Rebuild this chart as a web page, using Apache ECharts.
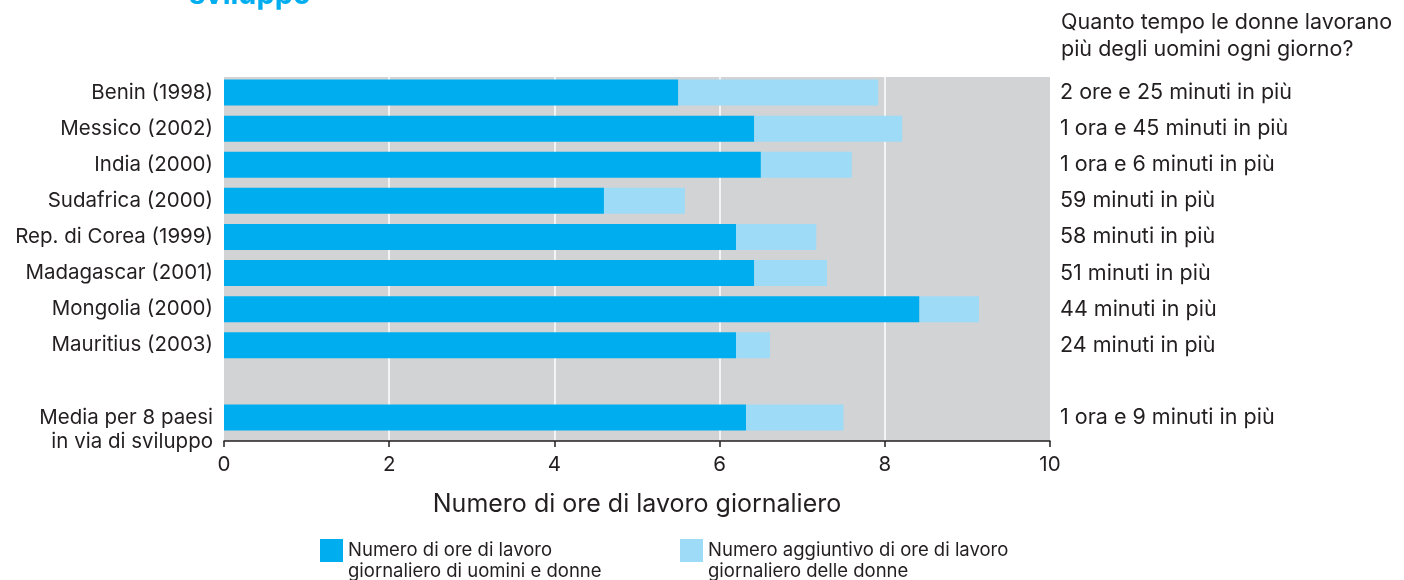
<!DOCTYPE html>
<html>
<head>
<meta charset="utf-8">
<script src="https://cdn.jsdelivr.net/npm/echarts@6/dist/echarts.min.js"></script>
<style>html,body{margin:0;padding:0;background:#fff}#c{width:1404px;height:580px}</style>
</head>
<body>
<div id="c"></div>
<script>
const categories = ['Benin (1998)', 'Messico (2002)', 'India (2000)', 'Sudafrica (2000)', 'Rep. di Corea (1999)', 'Madagascar (2001)', 'Mongolia (2000)', 'Mauritius (2003)', '', 'Media per 8 paesi\nin via di sviluppo'];
const baseHours = [5.5, 6.42, 6.5, 4.6, 6.2, 6.42, 8.42, 6.2, null, 6.32];
const extraHours = [2.42, 1.79, 1.1, 0.98, 0.97, 0.88, 0.72, 0.41, null, 1.18];
const extraLabels = ['2 ore e 25 minuti in più', '1 ora e 45 minuti in più', '1 ora e 6 minuti in più', '59 minuti in più', '58 minuti in più', '51 minuti in più', '44 minuti in più', '24 minuti in più', '', '1 ora e 9 minuti in più'];
const seriesNames = ['Numero di ore di lavoro\ngiornaliero di uomini e donne', 'Numero aggiuntivo di ore di lavoro\ngiornaliero delle donne'];
const titleText = 'sviluppo';
const rightHeader = 'Quanto tempo le donne lavorano\npiù degli uomini ogni giorno?';
const xAxisName = 'Numero di ore di lavoro giornaliero';

const FONT = 'Inter';
const TXT = '#231f20';
const DARK = '#00aeef';
const LIGHT = '#9edbf7';

const chart = echarts.init(document.getElementById('c'), null, {renderer: 'canvas'});

chart.setOption({
  animation: false,
  textStyle: {fontFamily: FONT, color: TXT},
  title: [
    {text: titleText, left: 184, top: -24, textStyle: {fontFamily: FONT, fontSize: 29, fontWeight: 'bold', color: DARK}},
    {text: rightHeader, left: 1056, top: 4, textStyle: {fontFamily: FONT, fontSize: 21.5, fontWeight: 'normal', color: TXT, lineHeight: 27}}
  ],
  grid: [
    {left: 224, right: 354, top: 74.5, height: 361, containLabel: false},
    {left: 224, right: 354, top: 77, height: 364, show: true, backgroundColor: '#d1d3d5', borderWidth: 0}
  ],
  xAxis: [
    {gridIndex: 0, type: 'value', min: 0, max: 10, interval: 2, show: false},
    {gridIndex: 1, type: 'value', min: 0, max: 10, interval: 2,
     axisLine: {show: true, lineStyle: {color: '#231f20', width: 1.5}},
     axisTick: {show: true, length: 6, lineStyle: {color: '#231f20', width: 1.5}},
     axisLabel: {fontFamily: FONT, fontSize: 20.5, color: TXT, margin: 13},
     splitLine: {show: true, showMinLine: false, showMaxLine: false, lineStyle: {color: '#ffffff', width: 1.5}},
     name: xAxisName, nameLocation: 'middle', nameGap: 51,
     nameTextStyle: {fontFamily: FONT, fontSize: 25, color: TXT}}
  ],
  yAxis: [
    {gridIndex: 0, type: 'category', data: categories, inverse: true,
     axisLine: {show: false}, axisTick: {show: false},
     axisLabel: {fontFamily: FONT, fontSize: 20.5, color: TXT, margin: 11, lineHeight: 24,
       formatter: v => v.indexOf('\n') >= 0 ? '\n' + v : v}},
    {gridIndex: 0, type: 'category', data: extraLabels, inverse: true, position: 'right',
     axisLine: {show: false}, axisTick: {show: false},
     axisLabel: {fontFamily: FONT, fontSize: 21.5, color: TXT, margin: 10, align: 'left'}},
    {gridIndex: 1, type: 'category', data: categories, inverse: true, show: false}
  ],
  legend: [
    {data: [seriesNames[0]], left: 315, top: 514, itemWidth: 23, itemHeight: 23, icon: 'rect', itemGap: 0,
     formatter: n => '\n' + n,
     textStyle: {fontFamily: FONT, fontSize: 18.5, color: TXT, lineHeight: 21}, selectedMode: false},
    {data: [seriesNames[1]], left: 675, top: 514, itemWidth: 23, itemHeight: 23, icon: 'rect', itemGap: 0,
     formatter: n => '\n' + n,
     textStyle: {fontFamily: FONT, fontSize: 18.5, color: TXT, lineHeight: 21}, selectedMode: false}
  ],
  series: [
    {name: seriesNames[0], type: 'bar', stack: 'h', xAxisIndex: 0, yAxisIndex: 0, data: baseHours, barWidth: 26, itemStyle: {color: DARK}},
    {name: seriesNames[1], type: 'bar', stack: 'h', xAxisIndex: 0, yAxisIndex: 0, data: extraHours, barWidth: 26, itemStyle: {color: LIGHT}}
  ]
});
</script>
</body>
</html>
